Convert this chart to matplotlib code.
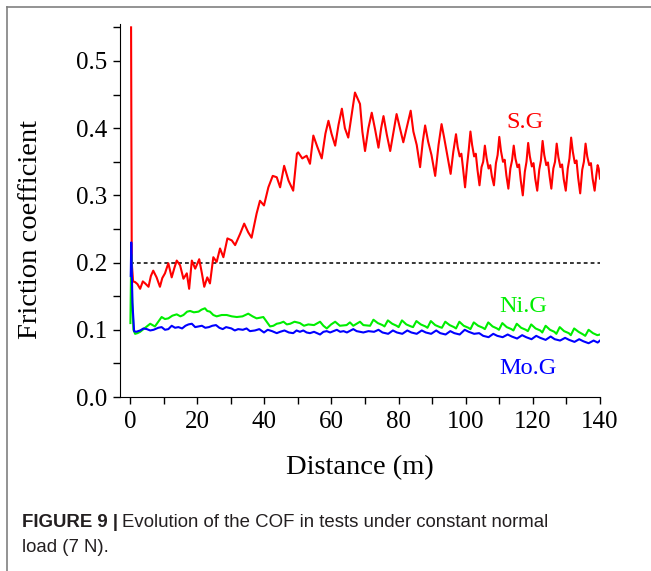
import matplotlib
matplotlib.use('Agg')
import matplotlib.pyplot as plt
from matplotlib.lines import Line2D
from matplotlib.ticker import MultipleLocator

# S.G curve (red)
sg_dist = [0.3, 0.5, 0.9, 1.5, 2.2, 3.0, 3.8, 4.5, 5.5, 6.2, 6.9, 7.9, 8.9, 9.6,
           10.4, 11.4, 12.4, 13.2, 13.9, 14.9, 15.9, 16.9, 17.6, 18.4, 19.4,
           20.6, 21.4, 22.1, 23.0, 23.8, 24.8, 25.8, 26.8, 27.8, 29.0,
           30.3, 31.3, 32.8, 34.0, 35.2, 36.2, 37.7, 38.7, 39.9,
           41.2, 42.5, 43.7, 44.7, 45.9, 47.2, 48.6, 49.7,
           50.1, 51.3, 52.6, 53.6, 54.6, 55.8, 57.1, 58.2, 59.1,
           60.0, 61.1, 62.1, 63.1, 64.0, 65.0, 66.0, 67.0, 68.5, 69.2,
           70.0, 71.0, 72.0, 73.0, 74.0, 74.8, 75.5, 76.5, 77.5, 78.5, 79.4,
           80.4, 81.4, 82.6, 83.6, 84.4, 85.4, 86.4, 87.2, 87.9, 88.8, 89.8,
           90.9, 91.9, 92.8, 93.6, 94.8, 95.5, 96.3, 97.1,
           97.6, 98.2, 98.7, 99.2, 99.8, 100.4, 100.9, 101.4,
           101.9, 102.5, 103.0, 103.5, 104.1, 104.7, 105.2, 105.7,
           106.2, 106.8, 107.3, 107.8, 108.4, 109.0, 109.5, 110.0,
           110.5, 111.1, 111.6, 112.1, 112.7, 113.3, 113.8, 114.3,
           114.8, 115.4, 115.9, 116.4, 117.0, 117.6, 118.1, 118.6,
           119.1, 119.7, 120.2, 120.7, 121.3, 121.9, 122.4, 122.9,
           123.4, 124.0, 124.5, 125.0, 125.5, 126.1, 126.6, 127.1,
           127.6, 128.2, 128.7, 129.2, 129.8, 130.4, 130.9, 131.4,
           131.9, 132.5, 133.0, 133.5, 134.1, 134.7, 135.2, 135.7,
           136.2, 136.8, 137.3, 137.8, 138.4, 138.9, 139.3, 139.6, 140.0]
sg_cof = [0.550, 0.200, 0.172, 0.171, 0.168, 0.161, 0.172, 0.169, 0.164, 0.180, 0.188, 0.178, 0.164, 0.177,
          0.184, 0.199, 0.178, 0.192, 0.203, 0.196, 0.176, 0.184, 0.161, 0.203, 0.191,
          0.205, 0.184, 0.164, 0.178, 0.169, 0.208, 0.201, 0.221, 0.208, 0.236,
          0.233, 0.226, 0.243, 0.258, 0.245, 0.237, 0.273, 0.292, 0.285,
          0.312, 0.329, 0.327, 0.312, 0.344, 0.322, 0.307, 0.362,
          0.364, 0.355, 0.359, 0.347, 0.389, 0.372, 0.355, 0.392, 0.411,
          0.392, 0.374, 0.405, 0.429, 0.400, 0.386, 0.420, 0.453, 0.436, 0.395,
          0.366, 0.400, 0.423, 0.398, 0.371, 0.400, 0.418, 0.390, 0.366, 0.395, 0.421,
          0.400, 0.379, 0.405, 0.426, 0.395, 0.375, 0.342, 0.380, 0.404, 0.380, 0.360,
          0.329, 0.375, 0.406, 0.385, 0.352, 0.332, 0.365, 0.391,
          0.372, 0.358, 0.362, 0.340, 0.312, 0.345, 0.368, 0.395,
          0.375, 0.358, 0.362, 0.338, 0.315, 0.342, 0.350, 0.374,
          0.356, 0.340, 0.345, 0.328, 0.315, 0.348, 0.360, 0.387,
          0.366, 0.350, 0.353, 0.330, 0.310, 0.340, 0.352, 0.374,
          0.355, 0.342, 0.346, 0.322, 0.300, 0.335, 0.350, 0.378,
          0.358, 0.343, 0.348, 0.325, 0.307, 0.338, 0.352, 0.381,
          0.360, 0.345, 0.349, 0.328, 0.310, 0.340, 0.350, 0.377,
          0.357, 0.342, 0.346, 0.324, 0.307, 0.340, 0.355, 0.386,
          0.365, 0.348, 0.352, 0.326, 0.303, 0.338, 0.350, 0.377,
          0.358, 0.345, 0.348, 0.325, 0.307, 0.330, 0.345, 0.340, 0.325]

# Ni.G curve (green)
nig_dist = [0.1, 0.35, 0.6, 1.0, 1.5, 2.2, 3.0, 4.5, 6.0, 7.4, 8.4, 9.4, 10.4, 11.4,
            12.6, 13.9, 15.0, 15.9, 17.0, 17.9, 19.0, 20.4, 21.3, 22.3, 23.0, 23.8,
            24.8, 25.8, 27.3, 28.8, 30.3, 31.8, 33.5, 35.2, 36.5, 37.7, 38.7, 39.7,
            40.7, 41.7, 42.7, 43.7, 44.7, 45.7, 46.7, 47.7, 49.0, 50.6, 51.8, 53.1,
            54.8, 56.6, 57.6, 58.6, 59.9, 61.1, 62.5, 64.5, 65.5, 66.5, 68.5, 69.5,
            71.5, 72.5, 73.8, 75.2, 75.8, 76.8, 78.1, 79.4, 80.0, 81.0, 82.3, 83.7,
            84.3, 85.3, 86.6, 88.0, 88.6, 89.6, 90.9, 92.3, 92.9, 93.9, 95.2, 96.5,
            97.1, 98.1, 99.4, 100.8, 101.4, 102.4, 103.7, 105.1, 105.7, 106.7, 108.0, 109.3,
            109.9, 110.9, 112.2, 113.6, 114.2, 115.2, 116.5, 117.9, 118.5, 119.5, 120.8, 122.2,
            122.8, 123.8, 125.1, 126.4, 127.0, 128.0, 129.3, 130.7, 131.3, 132.3, 133.6, 135.0,
            135.6, 136.6, 137.9, 139.2, 140.0]
nig_cof = [0.110, 0.212, 0.150, 0.100, 0.094, 0.095, 0.097, 0.103, 0.109, 0.105, 0.112, 0.119, 0.116, 0.117,
           0.121, 0.123, 0.120, 0.122, 0.127, 0.128, 0.126, 0.127, 0.130, 0.132, 0.128, 0.127,
           0.122, 0.120, 0.122, 0.122, 0.120, 0.119, 0.120, 0.124, 0.120, 0.117, 0.118, 0.119,
           0.112, 0.105, 0.106, 0.109, 0.110, 0.112, 0.108, 0.109, 0.112, 0.110, 0.106, 0.108,
           0.107, 0.112, 0.106, 0.102, 0.108, 0.112, 0.106, 0.107, 0.111, 0.106, 0.112, 0.107,
           0.106, 0.115, 0.110, 0.107, 0.105, 0.114, 0.109, 0.106, 0.104, 0.114, 0.108, 0.105,
           0.104, 0.113, 0.108, 0.105, 0.103, 0.113, 0.107, 0.104, 0.103, 0.112, 0.107, 0.104,
           0.102, 0.112, 0.106, 0.103, 0.101, 0.111, 0.106, 0.103, 0.101, 0.111, 0.105, 0.102,
           0.100, 0.110, 0.104, 0.101, 0.099, 0.109, 0.103, 0.100, 0.098, 0.108, 0.102, 0.099,
           0.096, 0.106, 0.100, 0.097, 0.094, 0.104, 0.098, 0.095, 0.092, 0.102, 0.097, 0.093,
           0.091, 0.100, 0.095, 0.092, 0.093]

# Mo.G curve (blue)
mog_dist = [0.2, 0.35, 0.7, 1.2, 1.8, 3.0, 4.0, 5.0, 6.0, 7.0, 8.4, 9.4, 10.4, 11.4,
            12.4, 13.4, 14.4, 15.5, 16.5, 17.4, 18.4, 19.4, 20.4, 21.4, 22.4, 23.5,
            24.5, 25.6, 26.6, 27.6, 28.6, 30.2, 31.2, 32.2, 33.6, 34.7, 35.7, 37.2,
            38.5, 39.9, 41.0, 42.3, 43.7, 44.7, 46.0, 47.3, 48.6, 49.6, 50.6, 51.6,
            52.6, 53.6, 54.8, 56.6, 57.6, 58.6, 59.6, 61.6, 62.6, 63.6, 64.6, 66.5,
            67.5, 68.5, 69.5, 71.0, 72.7,
            74.0, 75.2, 76.9, 78.3, 79.5, 81.1, 82.6, 83.8, 85.4, 86.9, 88.1, 89.7,
            91.2, 92.4, 94.0, 95.4, 96.6, 98.2, 99.7, 100.9, 102.5, 104.0, 105.2, 106.8,
            108.2, 109.4, 111.0, 112.5, 113.7, 115.3, 116.8, 118.0, 119.6, 121.0, 122.2,
            123.8, 125.3, 126.5, 128.1, 129.6, 130.8, 132.4, 133.8, 135.0, 136.6, 138.1,
            139.3, 140.0]
mog_cof = [0.180, 0.230, 0.140, 0.098, 0.097, 0.099, 0.102, 0.101, 0.099, 0.100, 0.103, 0.104, 0.100, 0.101,
           0.106, 0.103, 0.104, 0.102, 0.106, 0.108, 0.109, 0.104, 0.105, 0.106, 0.103, 0.104,
           0.106, 0.107, 0.103, 0.101, 0.104, 0.102, 0.099, 0.101, 0.100, 0.102, 0.098, 0.099,
           0.101, 0.096, 0.100, 0.098, 0.095, 0.097, 0.099, 0.096, 0.095, 0.099, 0.097, 0.099,
           0.096, 0.095, 0.097, 0.093, 0.097, 0.098, 0.096, 0.100, 0.097, 0.098, 0.096, 0.101,
           0.098, 0.097, 0.096, 0.098, 0.097,
           0.100, 0.096, 0.094, 0.099, 0.096, 0.094, 0.099, 0.096, 0.094, 0.099, 0.096, 0.094,
           0.099, 0.095, 0.093, 0.098, 0.095, 0.093, 0.100, 0.097, 0.094, 0.095, 0.091, 0.089,
           0.094, 0.091, 0.089, 0.093, 0.090, 0.087, 0.092, 0.089, 0.086, 0.091, 0.088,
           0.085, 0.090, 0.086, 0.084, 0.088, 0.085, 0.082, 0.086, 0.083, 0.080, 0.084,
           0.081, 0.084]

ref_level = 0.2

plt.rcParams['font.family'] = ['Liberation Serif', 'DejaVu Serif']

fig = plt.figure(figsize=(6.51, 5.71), dpi=100)
ax = fig.add_axes([120 / 651, 1 - 397 / 571, 480 / 651, 373 / 571])

ax.plot([0, 140], [ref_level, ref_level], color='black', lw=1.1, ls=(0, (2.5, 2)))
ax.plot(sg_dist, sg_cof, color='#ff0000', lw=1.5)
ax.plot(nig_dist, nig_cof, color='#00ee00', lw=1.5)
ax.plot(mog_dist, mog_cof, color='#0000ff', lw=1.5)

ax.set_xlim(-3, 140)
ax.set_ylim(0, 0.555)
ax.spines['top'].set_visible(False)
ax.spines['right'].set_visible(False)
ax.xaxis.set_major_locator(MultipleLocator(20))
ax.xaxis.set_minor_locator(MultipleLocator(10))
ax.yaxis.set_major_locator(MultipleLocator(0.1))
ax.yaxis.set_minor_locator(MultipleLocator(0.05))
ax.yaxis.set_major_formatter(plt.FormatStrFormatter('%.1f'))
ax.tick_params(which='both', direction='out', length=5, width=1, labelsize=18)
ax.tick_params(axis='x', pad=5)
ax.tick_params(axis='y', pad=4)
ax.set_xlabel('Distance (m)', fontsize=20.5)
ax.set_ylabel('Friction coefficient', fontsize=20.5)
ax.xaxis.set_label_coords(0.5, -0.155)
ax.yaxis.set_label_coords(-0.16, 0.45)

ax.text(117.5, 0.408, 'S.G', color='#ff0000', fontsize=17.5, ha='center', va='center')
ax.text(117, 0.134, 'Ni.G', color='#00ee00', fontsize=17.5, ha='center', va='center')
ax.text(118.5, 0.043, 'Mo.G', color='#0000ff', fontsize=17.5, ha='center', va='center')

# page frame
fig.add_artist(Line2D([7 / 651, 7 / 651], [0, 1 - 7 / 571], color='#808080', lw=1.2))
fig.add_artist(Line2D([7 / 651, 1], [1 - 7 / 571, 1 - 7 / 571], color='#808080', lw=1.2))

# caption
cap_color = '#231f20'
cap_size = 13.4
t1 = fig.text(22 / 651, 1 - 527 / 571, 'FIGURE 9 |', family='Liberation Sans', weight='bold',
              fontsize=cap_size, color=cap_color, va='baseline')
fig.canvas.draw()
bb = t1.get_window_extent()
fig.text((bb.x1 + 4) / 651, 1 - 527 / 571, 'Evolution of the COF in tests under constant normal',
         family='Liberation Sans', fontsize=cap_size, color=cap_color, va='baseline')
fig.text(22 / 651, 1 - 552 / 571, 'load (7 N).', family='Liberation Sans', fontsize=cap_size,
         color=cap_color, va='baseline')

fig.savefig('out.png', dpi=100)
